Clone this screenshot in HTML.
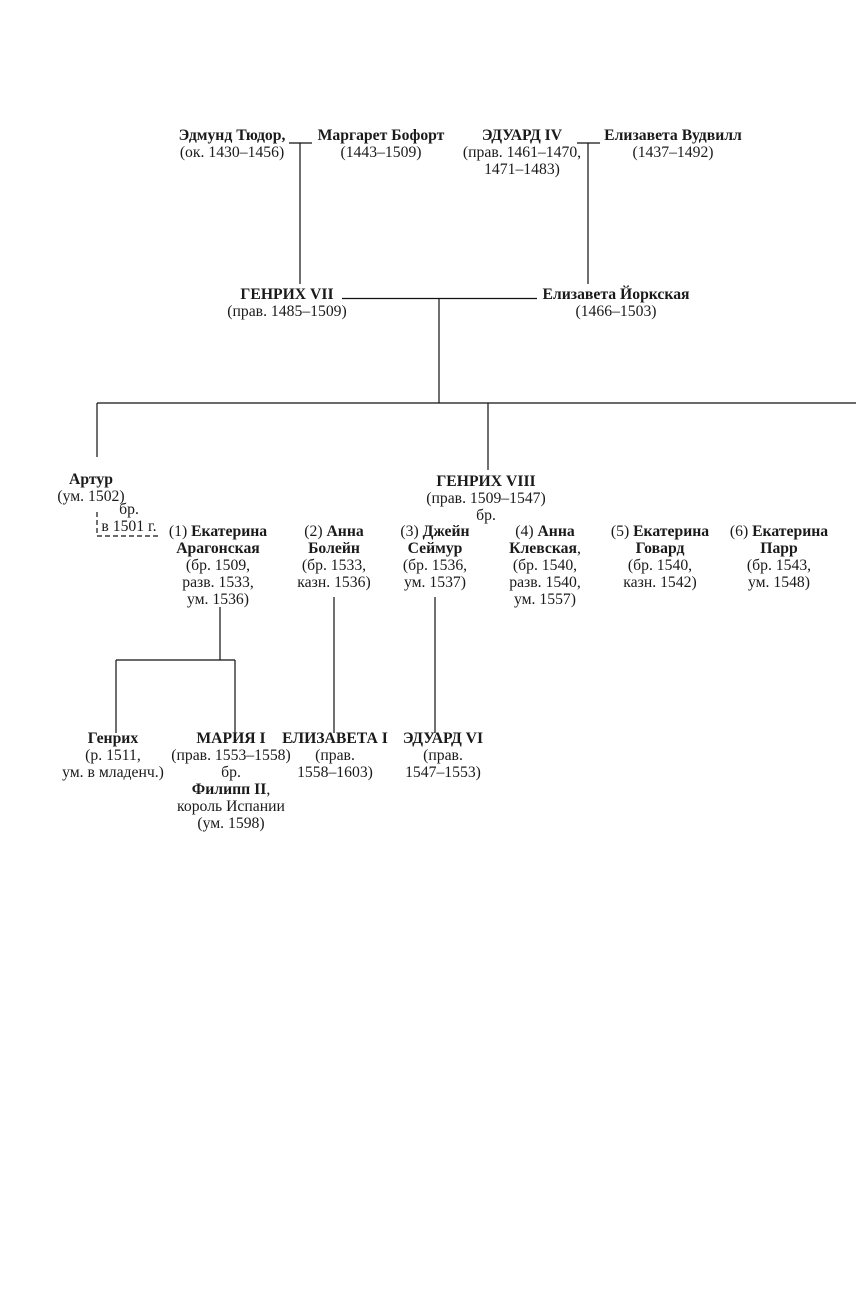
<!DOCTYPE html>
<html><head><meta charset="utf-8">
<style>
html,body{margin:0;padding:0;background:#fff;}
body{width:856px;height:1299px;position:relative;overflow:hidden;font-family:"Liberation Serif","DejaVu Serif",serif;font-size:15.7px;color:#1a1a1a;}
.t{position:absolute;width:220px;text-align:center;line-height:17px;white-space:nowrap;}
b{font-weight:bold;}
svg{position:absolute;left:0;top:0;}
</style></head><body>
<svg width="856" height="1299">
<g stroke="#111" stroke-width="1.2" fill="none">
<line x1="289" y1="143" x2="312" y2="143"/>
<line x1="300" y1="143" x2="300" y2="284"/>
<line x1="577" y1="143" x2="600" y2="143"/>
<line x1="588" y1="143" x2="588" y2="284"/>
<line x1="342" y1="298.5" x2="537" y2="298.5"/>
<line x1="439" y1="298" x2="439" y2="403"/>
<line x1="97" y1="403" x2="856" y2="403"/>
<line x1="97" y1="403" x2="97" y2="457"/>
<line x1="488" y1="403" x2="488" y2="470"/>
<path d="M97 512 V536 H160" stroke-dasharray="5,3"/>
<line x1="220" y1="607" x2="220" y2="660"/>
<line x1="116" y1="660" x2="235" y2="660"/>
<line x1="116" y1="660" x2="116" y2="733"/>
<line x1="235" y1="660" x2="235" y2="733"/>
<line x1="334" y1="597" x2="334" y2="733"/>
<line x1="435" y1="597" x2="435" y2="733"/>
</g>
</svg>
<div class="t" style="left:122px;top:127px"><b>Эдмунд Тюдор,</b><br>(ок. 1430–1456)</div>
<div class="t" style="left:271px;top:127px"><b>Маргарет Бофорт</b><br>(1443–1509)</div>
<div class="t" style="left:412px;top:127px"><b>ЭДУАРД IV</b><br>(прав. 1461–1470,<br>1471–1483)</div>
<div class="t" style="left:563px;top:127px"><b>Елизавета Вудвилл</b><br>(1437–1492)</div>
<div class="t" style="left:177px;top:286px"><b>ГЕНРИХ VII</b><br>(прав. 1485–1509)</div>
<div class="t" style="left:506px;top:286px"><b>Елизавета Йоркская</b><br>(1466–1503)</div>
<div class="t" style="left:-19px;top:471px"><b>Артур</b><br>(ум. 1502)</div>
<div class="t" style="left:19px;top:501px">бр.<br>в 1501 г.</div>
<div class="t" style="left:376px;top:473px"><b>ГЕНРИХ VIII</b><br>(прав. 1509–1547)<br>бр.</div>
<div class="t" style="left:108px;top:523px">(1) <b>Екатерина<br>Арагонская</b><br>(бр. 1509,<br>разв. 1533,<br>ум. 1536)</div>
<div class="t" style="left:224px;top:523px">(2) <b>Анна<br>Болейн</b><br>(бр. 1533,<br>казн. 1536)</div>
<div class="t" style="left:325px;top:523px">(3) <b>Джейн<br>Сеймур</b><br>(бр. 1536,<br>ум. 1537)</div>
<div class="t" style="left:435px;top:523px">(4) <b>Анна<br>Клевская</b>,<br>(бр. 1540,<br>разв. 1540,<br>ум. 1557)</div>
<div class="t" style="left:550px;top:523px">(5) <b>Екатерина<br>Говард</b><br>(бр. 1540,<br>казн. 1542)</div>
<div class="t" style="left:669px;top:523px">(6) <b>Екатерина<br>Парр</b><br>(бр. 1543,<br>ум. 1548)</div>
<div class="t" style="left:3px;top:730px"><b>Генрих</b><br>(р. 1511,<br>ум. в младенч.)</div>
<div class="t" style="left:121px;top:730px"><b>МАРИЯ I</b><br>(прав. 1553–1558)<br>бр.<br><b>Филипп II</b>,<br>король Испании<br>(ум. 1598)</div>
<div class="t" style="left:225px;top:730px"><b>ЕЛИЗАВЕТА I</b><br>(прав.<br>1558–1603)</div>
<div class="t" style="left:333px;top:730px"><b>ЭДУАРД VI</b><br>(прав.<br>1547–1553)</div>
</body></html>
